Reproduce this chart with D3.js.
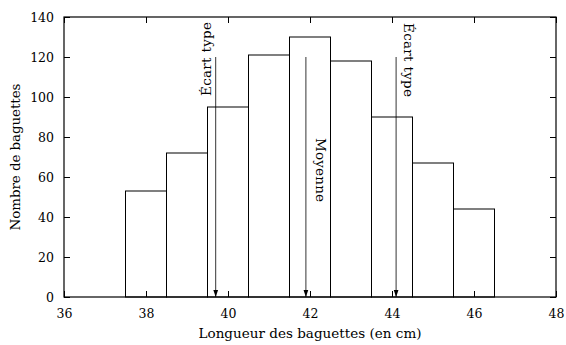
<!DOCTYPE html>
<html>
<head>
<meta charset="utf-8">
<script src="https://cdn.jsdelivr.net/npm/d3@7"></script>
<style>
  body { margin: 0; background: #fff; }
</style>
</head>
<body>
<div id="chart"></div>
<script>
// histogram data
var lengths = [38, 39, 40, 41, 42, 43, 44, 45, 46];
var counts = [53, 72, 95, 121, 130, 118, 90, 67, 44];
var xTicks = [36, 38, 40, 42, 44, 46, 48];
var yTicks = [0, 20, 40, 60, 80, 100, 120, 140];
// arrows: position, label
var markerX = [39.7, 41.9, 44.1];
var markerLabels = ["Écart type", "Moyenne", "Écart type"];
var arrowTop = 120;

var serif = "'DejaVu Serif', serif";

var width = 566, height = 345;
var margin = {top: 17, right: 10, bottom: 48, left: 64};
var w = width - margin.left - margin.right,
    h = height - margin.top - margin.bottom;

var svg = d3.select("#chart").append("svg")
    .attr("width", width)
    .attr("height", height)
    .style("font-family", serif);

svg.append("defs").append("marker")
    .attr("id", "arrow")
    .attr("viewBox", "0 0 8 8")
    .attr("refX", 8).attr("refY", 4)
    .attr("markerWidth", 7).attr("markerHeight", 7)
    .attr("markerUnits", "userSpaceOnUse")
    .attr("orient", "auto")
    .append("path")
    .attr("d", "M0,1.3L8,4L0,6.7Z")
    .attr("fill", "#000");

var g = svg.append("g")
    .attr("transform", "translate(" + margin.left + "," + margin.top + ")");

var x = d3.scaleLinear().domain([36, 48]).range([0, w]);
var y = d3.scaleLinear().domain([0, 140]).range([h, 0]);

// bars
g.selectAll(".bar")
    .data(lengths)
    .enter().append("rect")
    .attr("class", "bar")
    .attr("x", function (d) { return x(d - 0.5); })
    .attr("width", function (d) { return x(d + 0.5) - x(d - 0.5); })
    .attr("y", function (d, i) { return y(counts[i]); })
    .attr("height", function (d, i) { return h - y(counts[i]); })
    .attr("fill", "#fff")
    .attr("stroke", "#000")
    .attr("stroke-width", 1);

// axes, ticks pointing inside, mirrored on top/right
var tk = 6;
g.append("g")
    .attr("transform", "translate(0," + h + ")")
    .call(d3.axisBottom(x).tickValues(xTicks).tickSizeInner(-tk).tickSizeOuter(0).tickPadding(12));
g.append("g")
    .call(d3.axisTop(x).tickValues(xTicks).tickSizeInner(-tk).tickSizeOuter(0).tickFormat(""));
g.append("g")
    .call(d3.axisLeft(y).tickValues(yTicks).tickSizeInner(-tk).tickSizeOuter(0).tickPadding(10));
g.append("g")
    .attr("transform", "translate(" + w + ",0)")
    .call(d3.axisRight(y).tickValues(yTicks).tickSizeInner(-tk).tickSizeOuter(0).tickFormat(""));

g.selectAll(".domain").remove();
g.selectAll(".tick line").attr("stroke", "#000");
g.selectAll(".tick text")
    .attr("fill", "#000")
    .attr("font-family", serif)
    .style("font-family", serif)
    .style("font-size", "12.5px");

g.append("rect")
    .attr("width", w).attr("height", h)
    .attr("fill", "none")
    .attr("stroke", "#000")
    .attr("stroke-width", 1.2);

// arrows + labels
markerX.forEach(function (mx, i) {
    g.append("line")
        .attr("x1", x(mx)).attr("x2", x(mx))
        .attr("y1", y(arrowTop)).attr("y2", y(0))
        .attr("stroke", "#000")
        .attr("stroke-width", 0.8)
        .attr("marker-end", "url(#arrow)");

    var t = g.append("text")
        .style("font-size", "13.5px")
        .text(markerLabels[i]);
    if (i === 0) {
        t.attr("text-anchor", "end")
            .attr("textLength", 74).attr("lengthAdjust", "spacing")
            .attr("transform", "translate(" + (x(mx) - 5) + "," + (y(arrowTop) - 35) + ") rotate(-90)");
    } else if (i === 1) {
        t.attr("textLength", 64).attr("lengthAdjust", "spacing")
            .attr("transform", "translate(" + (x(mx) + 10) + "," + (y(arrowTop) + 81) + ") rotate(90)");
    } else {
        t.attr("textLength", 74).attr("lengthAdjust", "spacing")
            .attr("transform", "translate(" + (x(mx) + 8) + "," + (y(arrowTop) - 34) + ") rotate(90)");
    }
});

// axis titles
svg.append("text")
    .attr("x", margin.left + w / 2)
    .attr("y", 338)
    .attr("text-anchor", "middle")
    .attr("textLength", 223).attr("lengthAdjust", "spacing")
    .style("font-size", "13.5px")
    .text("Longueur des baguettes (en cm)");

svg.append("text")
    .attr("transform", "translate(20," + (margin.top + h / 2) + ") rotate(-90)")
    .attr("text-anchor", "middle")
    .attr("textLength", 147).attr("lengthAdjust", "spacing")
    .style("font-size", "13.5px")
    .text("Nombre de baguettes");
</script>
</body>
</html>
